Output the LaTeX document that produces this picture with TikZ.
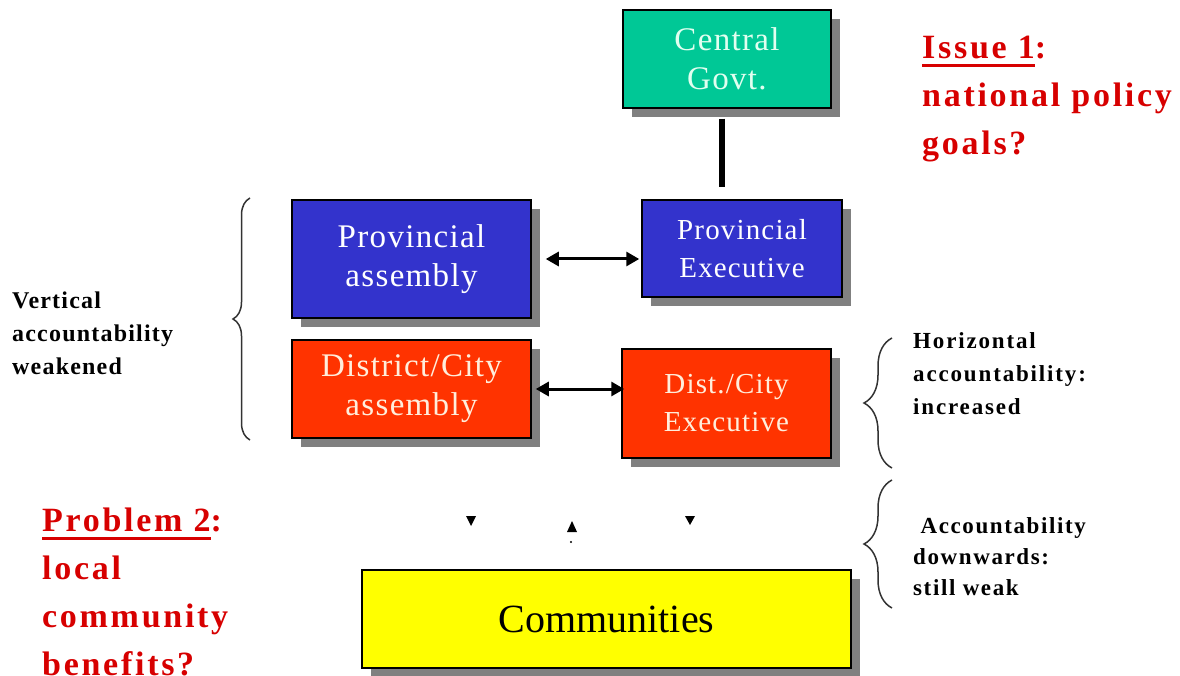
\documentclass[tikz,border=0pt]{standalone}
\usepackage{fontspec}
\setmainfont{Liberation Serif}
\usetikzlibrary{arrows.meta,shadows,decorations.pathreplacing}

\definecolor{govtgreen}{RGB}{0,200,150}
\definecolor{provblue}{RGB}{51,51,204}
\definecolor{distred}{RGB}{255,51,0}
\definecolor{commyellow}{RGB}{255,255,0}
\definecolor{issuered}{RGB}{215,0,0}
\definecolor{shadegray}{RGB}{128,128,128}

% underline that leaves the colon alone
\newcommand\ulword[1]{\setbox0\hbox{#1}\rlap{\rule[-8pt]{\wd0}{3pt}}\box0}
% wider letter spacing
\newcommand\spaced[1]{\addfontfeature{LetterSpace=#1}}

\begin{document}
\begin{tikzpicture}[x=1pt,y=-1pt,
  >={Triangle[length=13pt,width=14pt]},
  box/.style={draw=black,line width=1.5pt,inner sep=0pt,align=center,
    font=\fontsize{33}{39}\selectfont\spaced{4},
    drop shadow={shadow xshift=9pt,shadow yshift=-9pt,fill=shadegray,opacity=1}},
  execbox/.style={box,font=\fontsize{29}{38}\selectfont\spaced{4}},
  brace/.style={draw=black!80,line width=1.5pt,decorate,
    decoration={brace,amplitude=#1}},
  note/.style={anchor=north west,inner sep=0pt,align=left},
  issue/.style={note,text=issuered,font=\bfseries\fontsize{34}{48}\selectfont\spaced{8}}]
\useasboundingbox (0,0) rectangle (1180,676);

% boxes
\node[box,fill=govtgreen,text={rgb,255:red,225;green,255;blue,240},
  minimum width=208pt,minimum height=98pt] (cg) at (727,59) {Central\\Govt.};
\node[box,fill=provblue,text=white,
  minimum width=239pt,minimum height=118pt] (pa) at (411.5,259) {Provincial\\assembly};
\node[execbox,fill=provblue,text=white,
  minimum width=200pt,minimum height=97pt] (pe) at (742,248.5) {Provincial\\Executive};
\node[box,fill=distred,text={rgb,255:red,255;green,238;blue,220},
  minimum width=239pt,minimum height=98pt] (da) at (411.5,389) {District/City\\assembly};
\node[execbox,fill=distred,text={rgb,255:red,255;green,238;blue,220},
  minimum width=209pt,minimum height=109pt] (de) at (726.5,403.5) {Dist./City\\Executive};
\node[box,fill=commyellow,font=\fontsize{40}{48}\selectfont,
  minimum width=489pt,minimum height=98pt] (com) at (606.5,619) {Communities};

% links between the levels
\coordinate (link) at (722,0);
\draw[line width=6pt,shorten <=10pt,shorten >=12pt]
  (cg.south -| link) -- (pe.north -| link);
\draw[<->,line width=3pt,shorten <=14pt,shorten >=2pt] (pa.east) -- (pa.east -| pe.west);
\draw[<->,line width=3pt,shorten <=4pt,shorten >=-3pt] (da.east) -- (da.east -| de.west);

% what is left of the arrows to the communities
\fill (466,516) -- (476,516) -- (471,526) -- cycle;
\fill (567,532) -- (577,532) -- (572,521) -- cycle;
\fill (571,542) circle (1.2pt);
\fill (685,516) -- (695,516) -- (690,525) -- cycle;

% braces
\draw[brace=17pt] (250,440) -- (250,198);
\draw[brace=28pt] (892,468) -- (892,338);
\draw[brace=28pt] (892,608) -- (892,480);

% side notes
\node[note,font=\bfseries\fontsize{24}{33}\selectfont\spaced{5}] (vert) at (12,292)
  {Vertical\\accountability\\weakened};
\node[note,font=\bfseries\fontsize{23}{33}\selectfont\spaced{8}] (horiz) at (913,332)
  {Horizontal\\accountability:\\increased};
\node[note,font=\bfseries\fontsize{23}{31}\selectfont\spaced{7}] (down) at (913,517)
  {\ Accountability\\downwards:\\still weak};

\node[issue] (issue) at (922,36)
  {\ulword{Issue 1}:\\national policy\\goals?};
\node[issue] (problem) at (42,508)
  {\ulword{Problem 2}:\\local\\community\\benefits?};
\end{tikzpicture}
\end{document}
